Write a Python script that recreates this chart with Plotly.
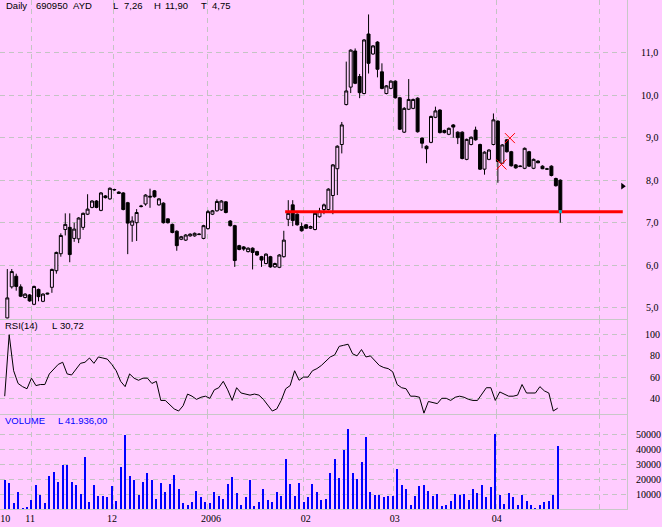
import plotly.graph_objects as go

# ---------------- data ----------------
opens = [4.76, 5.49, 5.74, 5.49, 5.24, 5.30, 5.08, 5.43, 5.15, 5.32,
         5.48, 5.87, 6.27, 6.84, 6.89, 6.63, 6.62, 6.89, 7.20, 7.36,
         7.51, 7.29, 7.63, 7.56, 7.77, 7.72, 7.70, 7.47, 6.94, 7.00,
         7.38, 7.44, 7.60, 7.75, 7.42, 7.46, 7.09, 6.96, 6.80, 6.61,
         6.59, 6.69, 6.69, 6.72, 6.63, 6.86, 7.20, 7.28, 7.30, 7.49,
         7.04, 6.93, 6.46, 6.43, 6.32, 6.40, 6.32, 6.20, 6.04, 6.20,
         5.96, 5.95, 6.20, 7.08, 7.42, 7.20, 6.91, 6.95, 6.87, 6.84,
         7.14, 7.31, 7.31, 7.64, 8.27, 8.84, 9.78, 10.19, 11.04, 10.44,
         10.04, 11.44, 10.97, 11.25, 10.55, 10.04, 10.16, 10.33, 9.94, 9.13,
         9.67, 9.69, 9.93, 8.99, 8.80, 8.89, 9.48, 9.65, 9.17, 9.08,
         9.30, 9.13, 9.13, 8.49, 8.84, 9.18, 8.84, 8.26, 8.49, 8.84,
         9.39, 8.40, 8.95, 8.67, 8.36, 8.32, 8.28, 8.67, 8.28, 8.45,
         8.33, 8.26, 8.33, 8.04, 8.00]
highs = [5.91, 5.91, 5.80, 5.55, 5.34, 5.32, 5.52, 5.45, 5.34, 5.35,
         5.92, 6.32, 6.75, 7.22, 7.22, 7.00, 7.13, 7.24, 7.67, 7.53,
         7.53, 7.72, 7.65, 7.83, 7.80, 7.74, 7.72, 7.49, 7.15, 7.32,
         7.42, 7.67, 7.80, 7.77, 7.58, 7.48, 7.10, 6.98, 6.82, 6.69,
         6.73, 6.75, 6.77, 6.75, 6.95, 7.30, 7.30, 7.55, 7.53, 7.51,
         7.06, 6.95, 6.48, 6.45, 6.42, 6.42, 6.34, 6.22, 6.28, 6.22,
         6.06, 6.26, 6.81, 7.53, 7.53, 7.22, 7.00, 6.97, 6.93, 7.24,
         7.35, 7.45, 7.81, 8.38, 8.82, 9.37, 10.79, 11.08, 11.10, 10.50,
         11.32, 11.90, 11.18, 11.27, 10.75, 10.24, 10.35, 10.35, 9.96, 9.72,
         10.38, 9.92, 9.95, 9.01, 8.82, 9.52, 9.73, 9.67, 9.19, 9.24,
         9.32, 9.15, 9.15, 8.98, 9.03, 9.26, 8.86, 8.68, 8.73, 9.57,
         9.41, 8.85, 8.97, 8.69, 8.38, 8.35, 8.77, 8.69, 8.51, 8.47,
         8.35, 8.29, 8.35, 8.06, 8.02]
lows = [4.75, 5.45, 5.40, 5.25, 5.22, 5.14, 5.06, 5.15, 5.13, 5.31,
        5.35, 5.80, 6.20, 6.70, 6.07, 6.55, 6.52, 6.83, 7.18, 7.34,
        7.34, 7.27, 7.57, 7.54, 7.75, 7.68, 7.29, 6.26, 6.55, 6.57,
        7.36, 7.40, 7.35, 7.59, 7.40, 6.98, 6.98, 6.75, 6.34, 6.59,
        6.57, 6.67, 6.67, 6.71, 6.61, 6.84, 7.18, 7.26, 7.28, 7.22,
        6.91, 5.96, 6.35, 6.34, 6.30, 5.90, 6.22, 5.96, 6.02, 5.94,
        5.94, 5.93, 6.18, 6.92, 6.92, 6.93, 6.79, 6.85, 6.85, 6.82,
        7.12, 7.20, 7.29, 7.20, 7.65, 8.63, 9.76, 10.05, 10.26, 9.93,
        10.02, 10.51, 10.95, 10.42, 10.14, 10.02, 10.14, 9.92, 9.18, 9.11,
        9.65, 9.67, 9.12, 8.75, 8.40, 8.87, 9.46, 9.10, 9.10, 9.06,
        9.00, 8.85, 8.49, 8.47, 8.82, 8.93, 8.24, 8.13, 8.47, 8.82,
        7.94, 8.38, 8.65, 8.32, 8.27, 8.31, 8.26, 8.31, 8.26, 8.40,
        8.26, 8.24, 8.09, 7.85, 7.00]
closes = [5.23, 5.85, 5.50, 5.27, 5.32, 5.16, 5.50, 5.26, 5.32, 5.34,
          5.90, 6.30, 6.70, 6.96, 6.25, 6.85, 7.11, 7.22, 7.32, 7.51,
          7.36, 7.70, 7.59, 7.81, 7.78, 7.69, 7.31, 6.99, 7.04, 7.24,
          7.39, 7.65, 7.62, 7.61, 7.56, 7.00, 7.00, 6.77, 6.46, 6.67,
          6.71, 6.73, 6.75, 6.73, 6.93, 7.26, 7.28, 7.50, 7.51, 7.24,
          6.93, 6.11, 6.37, 6.38, 6.40, 6.30, 6.24, 6.12, 6.26, 5.96,
          6.04, 6.24, 6.59, 7.22, 7.05, 6.95, 6.81, 6.87, 6.91, 7.22,
          7.27, 7.42, 7.79, 8.36, 8.80, 9.30, 10.10, 11.06, 10.28, 10.06,
          11.30, 10.75, 11.16, 10.61, 10.16, 10.22, 10.33, 9.94, 9.20, 9.69,
          9.90, 9.90, 9.14, 8.87, 8.74, 9.50, 9.63, 9.12, 9.12, 9.22,
          9.25, 9.00, 8.51, 8.96, 9.01, 8.95, 8.26, 8.66, 8.71, 9.42,
          8.44, 8.83, 8.67, 8.34, 8.29, 8.33, 8.75, 8.33, 8.49, 8.41,
          8.27, 8.265, 8.11, 7.87, 7.26]
rsi_values = [42, 100, 66, 54, 51, 49, 59, 52, 53, 53,
              63, 68, 72, 74, 63, 62, 68, 73, 74, 78,
              73, 79, 78, 77, 72, 66, 56, 51, 63, 59,
              57, 59, 59, 54, 56, 38, 38, 34, 30, 28,
              33, 44, 42, 39, 41, 42, 40, 48, 50, 56,
              48, 38, 50, 45, 44, 43, 44, 43, 39, 34,
              28, 30, 38, 49, 52, 66, 57, 60, 60, 66,
              68, 71, 75, 79, 81, 89, 90, 91, 82, 80,
              86, 79, 80, 75, 71, 69, 68, 65, 53, 50,
              49, 42, 42, 41, 26, 37, 36, 35, 40, 40,
              38, 41, 42, 41, 39, 38, 38, 44, 50, 50,
              38, 46, 44, 42, 42, 43, 53, 45, 45, 45,
              51, 47, 45, 28, 30.72]
volumes = [19600, 17600, 4200, 11600, 1000, 1500, 6200, 16200, 9600, 4200,
           22000, 25000, 18000, 29500, 29500, 18000, 16000, 10000, 35000, 5000,
           16000, 9000, 9000, 8000, 15500, 5500, 28000, 49500, 22000, 19500,
           9500, 18000, 24000, 19500, 7000, 17500, 11500, 17000, 23000, 13500,
           4200, 3000, 5000, 12000, 8000, 5000, 4200, 11500, 9000, 7000,
           17000, 21500, 11000, 3000, 8000, 19500, 2200, 5000, 13500, 6200,
           5000, 11500, 9000, 33500, 17000, 9000, 17500, 5000, 8000, 17000,
           11500, 6200, 7000, 24000, 33500, 21000, 39500, 53500, 24000, 20000,
           31500, 48000, 11500, 9500, 9500, 8000, 9000, 9000, 27000, 16000,
           13500, 3000, 9000, 15500, 16000, 12000, 9000, 10000, 2200, 3000,
           5500, 10000, 9500, 10000, 6200, 13500, 11000, 16000, 8000, 15000,
           50000, 9500, 3500, 11000, 8000, 3000, 9500, 5500, 3000, 400,
           3000, 5000, 5500, 9500, 41936]

month_labels = ["10", "11", "12", "2006", "02", "03", "04"]
month_label_pos = [-0.45, 5.11, 23.5, 45.7, 66.9, 86.9, 109.75]
month_grid_pos = [5.5, 23.7, 44.8, 66.5, 86.7, 109.8, 132.7]
price_ticks = [5, 6, 7, 8, 9, 10, 11]
rsi_ticks = [40, 60, 80, 100]
volume_ticks = [10000, 20000, 30000, 40000, 50000]
support_level = 7.26
support_span = [62.3, 138.0]
signal_x = [110.8, 112.7]
signal_y = [8.37, 8.99]
arrow_x = [138.0]
arrow_y = [7.86]

# ---------------- styles ----------------
PINK = "#ffccff"
GRID = "#c4c4c4"
SEP = "#c8c8c8"
W, H = 662, 527
ML, MR, MT, MB = 0, 35, 0, 18
PW, PH = W - ML - MR, H - MT - MB
X_RANGE = [-1.637, 138.95]
IND_OFFSET = -0.58  # volume / RSI drawn slightly left of candle centre

n = len(closes)
xs = list(range(n))
xs_ind = [x + IND_OFFSET for x in xs]

def fig_space_pad(s, width):
    return "\u2007" * (width - len(s)) + s

price_text = [fig_space_pad(f"{v:.1f}".replace(".", ","), 4) for v in price_ticks]
rsi_text = [fig_space_pad(str(v), 3) for v in rsi_ticks]
vol_text = [str(v) for v in volume_ticks]

fig = go.Figure()

fig.add_trace(go.Candlestick(
    x=xs, open=opens, high=highs, low=lows, close=closes,
    xaxis="x", yaxis="y",
    increasing=dict(line=dict(color="black", width=1), fillcolor=PINK),
    decreasing=dict(line=dict(color="black", width=1), fillcolor="black"),
    whiskerwidth=0, showlegend=False, hoverinfo="skip",
))
fig.add_trace(go.Scatter(
    x=support_span, y=[support_level, support_level], mode="lines",
    line=dict(color="#ff0000", width=3), xaxis="x", yaxis="y",
    showlegend=False, hoverinfo="skip",
))
fig.add_trace(go.Scatter(
    x=[xs[-1]], y=[support_level], mode="markers",
    marker=dict(symbol="square", size=3, color="#00c0d0"),
    xaxis="x", yaxis="y", showlegend=False, hoverinfo="skip",
))
fig.add_trace(go.Scatter(
    x=signal_x, y=signal_y, mode="markers",
    marker=dict(symbol="x-thin-open", size=10, color="#ff0000",
                line=dict(color="#ff0000", width=1)),
    xaxis="x", yaxis="y", showlegend=False, hoverinfo="skip",
))
fig.add_trace(go.Scatter(
    x=arrow_x, y=arrow_y, mode="markers",
    marker=dict(symbol="triangle-right", size=6, color="black"),
    xaxis="x", yaxis="y", showlegend=False, hoverinfo="skip",
))
fig.add_trace(go.Scatter(
    x=xs_ind, y=rsi_values, mode="lines", line=dict(color="black", width=1),
    xaxis="x2", yaxis="y2", showlegend=False, hoverinfo="skip",
))
fig.add_trace(go.Bar(
    x=xs_ind, y=volumes, marker=dict(color="#0000ff", line=dict(width=0)),
    width=0.45, xaxis="x3", yaxis="y3", showlegend=False, hoverinfo="skip",
))

d_main = (PH - 319) / PH
d_rsi = (PH - 414) / PH

common_x = dict(range=X_RANGE, showline=True, linecolor=SEP, linewidth=1,
                zeroline=False, fixedrange=True)
grid_x = dict(tickmode="array", tickvals=month_grid_pos, showticklabels=False,
              ticks="", showgrid=True, gridcolor=GRID, griddash="5px,4px", gridwidth=1)
common_y = dict(side="right", showline=True, linecolor=SEP, linewidth=1,
                zeroline=False, ticks="", showgrid=True, gridcolor=GRID,
                griddash="5px,4px", gridwidth=1, tickmode="array", fixedrange=True,
                tickfont=dict(family="Liberation Serif", size=10, color="black"))

fig.update_layout(
    width=W, height=H,
    margin=dict(l=ML, r=MR, t=MT, b=MB, pad=0),
    paper_bgcolor=PINK, plot_bgcolor=PINK,
    boxgap=0.05,
    bargap=0,
    hovermode=False,
    xaxis=dict(domain=[0, 1], anchor="y", rangeslider=dict(visible=False), **common_x, **grid_x),
    xaxis2=dict(domain=[0, 1], anchor="y2", matches="x", **common_x, **grid_x),
    xaxis3=dict(domain=[0, 1], anchor="y3", matches="x", **common_x,
                tickmode="array", tickvals=month_label_pos, ticktext=month_labels,
                ticks="", showgrid=False,
                tickfont=dict(family="Liberation Serif", size=10, color="black"),
                minor=dict(tickmode="array", tickvals=month_grid_pos, showgrid=True,
                           gridcolor=GRID, griddash="5px,4px", gridwidth=1, ticks="")),
    yaxis=dict(domain=[d_main, 1], anchor="x", range=[4.734, 12.24],
               tickvals=price_ticks, ticktext=price_text, ticklabelstandoff=11, **common_y),
    yaxis2=dict(domain=[d_rsi, d_main], anchor="x2", range=[25.2, 114.8],
                tickvals=rsi_ticks, ticktext=rsi_text, ticklabelstandoff=15, **common_y),
    yaxis3=dict(domain=[0, d_rsi], anchor="x3", range=[0, 63533],
                tickvals=volume_ticks, ticktext=vol_text, ticklabelstandoff=6, **common_y),
)

def px_x(px):
    return (px - ML) / PW

def px_y(py):
    return (PH - (py - MT)) / PH

labels = [
    ("Daily", 4, 6, "black"), ("690950", 34, 6, "black"), ("AYD", 71, 6, "black"),
    ("L", 111, 6, "black"), ("7,26", 122, 6, "black"),
    ("H", 152, 6, "black"), ("11,90", 163, 6, "black"),
    ("T", 199, 6, "black"), ("4,75", 210, 6, "black"),
    ("RSI(14)", 3, 325, "black"), ("L", 50, 325, "black"), ("30,72", 58, 325, "black"),
    ("VOLUME", 3, 420, "#0000ff"), ("L", 56, 420, "#0000ff"), ("41.936,00", 63, 420, "#0000ff"),
]
for txt, lx, ly, col in labels:
    fig.add_annotation(text=txt, xref="paper", yref="paper", x=px_x(lx), y=px_y(ly),
                       xanchor="left", yanchor="middle", showarrow=False,
                       font=dict(family="Liberation Sans", size=9.5, color=col))

fig.write_html(
    "out.html",
    config={"displayModeBar": False, "staticPlot": True},
    post_script="document.body.style.margin='0px';document.body.style.background='%s';" % PINK,
)
